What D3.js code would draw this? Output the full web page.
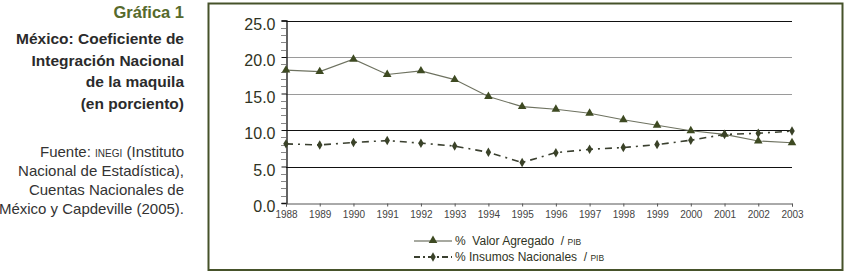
<!DOCTYPE html>
<html lang="es">
<head>
    <meta charset="UTF-8">
    <title>Gráfica 1</title>
    <style>
        body {
            margin: 0;
            padding: 0;
            background: #fff;
            font-family: "Liberation Sans", Arial, Helvetica, sans-serif;
        }
        #chart {
            width: 846px;
            height: 273px;
        }
    </style>
</head>
<body>
    <div id="chart"></div>
    <script src="https://d3js.org/d3.v7.min.js"></script>
    <script>
        // Data
        var years = [1988, 1989, 1990, 1991, 1992, 1993, 1994, 1995, 1996, 1997, 1998, 1999, 2000, 2001, 2002, 2003];
        var valorAgregado = [18.2, 18.0, 19.7, 17.6, 18.1, 16.9, 14.6, 13.2, 12.85, 12.3, 11.4, 10.65, 9.9, 9.4, 8.5, 8.25];
        var insumosNacionales = [8.1, 7.95, 8.3, 8.55, 8.2, 7.8, 6.95, 5.55, 6.9, 7.35, 7.6, 8.0, 8.6, 9.4, 9.55, 9.85];
        var yTicks = [0, 5, 10, 15, 20, 25];
        var yMinorTicks = [1, 2, 3, 4, 6, 7, 8, 9, 11, 12, 13, 14, 16, 17, 18, 19, 21, 22, 23, 24];
        var darkGrid = [25, 10, 5];
        var titleLines = ["México: Coeficiente de", "Integración Nacional", "de la maquila", "(en porciento)"];

        var olive = "#3e4a22";
        var textDark = "#2f3323";

        var svg = d3.select("#chart")
            .append("svg")
            .attr("width", 846)
            .attr("height", 273);

        // left text block
        svg.append("text")
            .attr("x", 184)
            .attr("y", 18)
            .style("text-anchor", "end")
            .style("font-size", "16.5px")
            .style("font-weight", "bold")
            .style("fill", "#566a2c")
            .text("Gráfica 1");

        svg.selectAll(".title-line")
            .data(titleLines)
            .enter()
            .append("text")
            .attr("class", "title-line")
            .attr("x", 184)
            .attr("y", (d, i) => 44 + i * 21.5)
            .style("text-anchor", "end")
            .style("font-size", "15.5px")
            .style("font-weight", "bold")
            .style("fill", "#2b2b2b")
            .text(d => d);

        var src = svg.append("g")
            .style("font-size", "15px")
            .style("fill", "#333")
            .style("text-anchor", "end");

        var l1 = src.append("text").attr("x", 184).attr("y", 157);
        l1.append("tspan").text("Fuente: ");
        l1.append("tspan").style("font-size", "10px").text("INEGI");
        l1.append("tspan").text(" (Instituto");
        src.append("text").attr("x", 184).attr("y", 176).text("Nacional de Estadística),");
        src.append("text").attr("x", 184).attr("y", 195).text("Cuentas Nacionales de");
        src.append("text").attr("x", 184).attr("y", 214).text("México y Capdeville (2005).");

        // frame
        svg.append("rect")
            .attr("x", 208.5)
            .attr("y", 3.5)
            .attr("width", 634)
            .attr("height", 266.5)
            .attr("fill", "none")
            .attr("stroke", "#46522a")
            .attr("stroke-width", 2);

        // scales
        var x = d3.scaleLinear().domain([1988, 2003]).range([286, 792]);
        var y = d3.scaleLinear().domain([0, 25]).range([203, 20.5]);

        // gridlines
        svg.selectAll(".grid")
            .data(yTicks.filter(d => d > 0))
            .enter()
            .append("line")
            .attr("class", "grid")
            .attr("x1", x(1988))
            .attr("x2", x(2003))
            .attr("y1", d => Math.round(y(d)) + 0.5)
            .attr("y2", d => Math.round(y(d)) + 0.5)
            .attr("stroke", d => darkGrid.includes(d) ? "#111" : "#9a9a9a")
            .attr("stroke-width", 1.2);

        // minor ticks on y axis
        svg.selectAll(".minor")
            .data(yMinorTicks)
            .enter()
            .append("line")
            .attr("class", "minor")
            .attr("x1", x(1988) - 5)
            .attr("x2", x(1988))
            .attr("y1", d => Math.round(y(d)) + 0.5)
            .attr("y2", d => Math.round(y(d)) + 0.5)
            .attr("stroke", "#888")
            .attr("stroke-width", 1);

        // y axis
        var yAxis = svg.append("g")
            .attr("transform", "translate(" + (x(1988) + 0.5) + ",0)")
            .call(d3.axisLeft(y).tickValues(yTicks).tickFormat(d3.format(".1f")).tickSize(5).tickPadding(6));
        yAxis.select(".domain").attr("stroke", "#111").attr("stroke-width", 1.3);
        yAxis.selectAll(".tick line").attr("stroke", "#111");
        yAxis.selectAll(".tick text")
            .attr("dy", "0.55em")
            .style("font-family", "'Liberation Sans', Arial, sans-serif")
            .style("font-size", "16px")
            .style("fill", textDark);

        // x axis
        var xAxis = svg.append("g")
            .attr("transform", "translate(0," + (Math.round(y(0)) + 0.5) + ")")
            .call(d3.axisBottom(x).tickValues(years).tickFormat(d3.format("d")).tickSize(3).tickPadding(4));
        xAxis.select(".domain").attr("stroke", "#555");
        xAxis.selectAll(".tick line").attr("stroke", "#555");
        xAxis.selectAll(".tick text")
            .style("font-family", "'Liberation Sans', Arial, sans-serif")
            .style("font-size", "10px")
            .style("fill", "#444");

        // series
        var lineValor = d3.line()
            .x((d, i) => x(years[i]))
            .y(d => y(d));

        svg.append("path")
            .datum(valorAgregado)
            .attr("d", lineValor)
            .attr("fill", "none")
            .attr("stroke", "#6e7260")
            .attr("stroke-width", 1.1);

        svg.append("path")
            .datum(insumosNacionales)
            .attr("d", lineValor)
            .attr("fill", "none")
            .attr("stroke", "#3b4030")
            .attr("stroke-width", 1.6)
            .attr("stroke-dasharray", "7,5,2,5");

        svg.selectAll(".tri")
            .data(valorAgregado)
            .enter()
            .append("path")
            .attr("class", "tri")
            .attr("transform", (d, i) => "translate(" + x(years[i]) + "," + y(d) + ")")
            .attr("d", d3.symbol().type(d3.symbolTriangle).size(32))
            .attr("fill", olive);

        svg.selectAll(".dia")
            .data(insumosNacionales)
            .enter()
            .append("path")
            .attr("class", "dia")
            .attr("transform", (d, i) => "translate(" + x(years[i]) + "," + y(d) + ")")
            .attr("d", d3.symbol().type(d3.symbolDiamond).size(26))
            .attr("fill", "#3a4228");

        // legend
        var legend = svg.append("g");

        legend.append("line")
            .attr("x1", 414).attr("x2", 452)
            .attr("y1", 241).attr("y2", 241)
            .attr("stroke", "#8a8d80")
            .attr("stroke-width", 1.4);
        legend.append("path")
            .attr("transform", "translate(433,240.5)")
            .attr("d", d3.symbol().type(d3.symbolTriangle).size(32))
            .attr("fill", olive);
        var t1 = legend.append("text")
            .attr("x", 455).attr("y", 245)
            .style("font-size", "12px")
            .style("fill", textDark);
        t1.append("tspan").text("%\u00a0 Valor Agregado\u00a0 / ");
        t1.append("tspan").style("font-size", "8.5px").text("PIB");

        legend.append("line")
            .attr("x1", 414).attr("x2", 452)
            .attr("y1", 257).attr("y2", 257)
            .attr("stroke", "#3b4030")
            .attr("stroke-width", 1.8)
            .attr("stroke-dasharray", "6,3,2,3");
        legend.append("path")
            .attr("transform", "translate(433,257)")
            .attr("d", d3.symbol().type(d3.symbolDiamond).size(26))
            .attr("fill", "#3a4228");
        var t2 = legend.append("text")
            .attr("x", 455).attr("y", 261)
            .style("font-size", "12px")
            .style("fill", textDark);
        t2.append("tspan").text("% Insumos Nacionales\u00a0 / ");
        t2.append("tspan").style("font-size", "8.5px").text("PIB");
    </script>
</body>
</html>
